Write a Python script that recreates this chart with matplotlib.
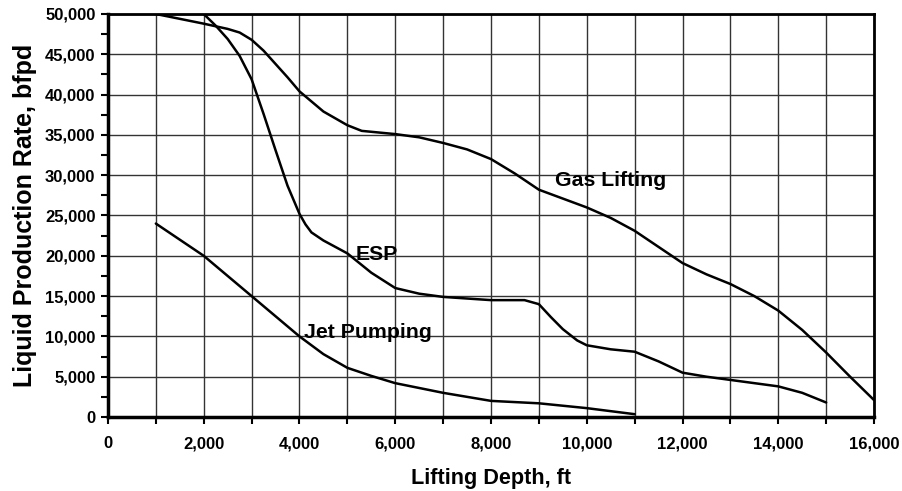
"""Liquid production rate vs lifting depth for three artificial lift methods."""

import matplotlib
matplotlib.use('Agg')
import matplotlib.pyplot as plt
from matplotlib.ticker import MultipleLocator, FuncFormatter

# Values.
gas_depth = [1000, 2000, 2500, 2750, 3000, 3250, 3500, 3750, 4000, 4500, 5000, 5300,
             6000, 6500, 7000, 7500, 8000, 8500, 9000, 9500, 10000, 10500, 11000,
             11500, 12000, 12500, 13000, 13500, 14000, 14500, 15000, 15500, 16000]
gas_rate = [50000, 48800, 48150, 47700, 46800, 45450, 43800, 42150, 40400, 37900, 36200,
            35500, 35100, 34700, 34000, 33200, 32000, 30200, 28200, 27100, 26000, 24700,
            23100, 21100, 19100, 17700, 16500, 15000, 13200, 10800, 8000, 5000, 2100]

esp_depth = [2000, 2250, 2500, 2750, 3000, 3250, 3500, 3750, 4000, 4125, 4250, 4500,
             5000, 5500, 6000, 6500, 7000, 8000, 8700, 9000, 9250, 9500, 9800, 10000,
             10500, 11000, 11500, 12000, 12500, 13000, 14000, 14500, 15000]
esp_rate = [50000, 48550, 46900, 44800, 41900, 37600, 33100, 28700, 25200, 23900, 22900,
            21900, 20300, 17900, 16000, 15300, 14900, 14500, 14500, 14000, 12400, 10900,
            9500, 8900, 8400, 8100, 6900, 5500, 5000, 4600, 3800, 3000, 1800]

jet_depth = [1000, 2000, 3000, 4000, 4500, 5000, 5500, 6000, 6500, 7000, 8000,
             9000, 10000, 11000]
jet_rate = [24000, 20000, 15000, 10000, 7800, 6100, 5100, 4200, 3600, 3000, 2000,
            1700, 1100, 350]

labels = ['Gas Lifting', 'ESP', 'Jet Pumping']
label_pos = [(9330, 29300), (5170, 20100), (4100, 10500)]

plt.rcParams['font.family'] = ['Liberation Sans', 'DejaVu Sans']
plt.rcParams['font.weight'] = 'bold'

fig = plt.figure(figsize=(9.02, 4.91), dpi=100)
ax = fig.add_axes([0.1197, 0.1507, 0.9690 - 0.1197, 0.9715 - 0.1507])

for d, r in [(gas_depth, gas_rate), (esp_depth, esp_rate), (jet_depth, jet_rate)]:
  ax.plot(d, r, color='black', lw=1.8, solid_capstyle='round', zorder=3)

for text, (x, y) in zip(labels, label_pos):
  ax.text(x, y, text, fontsize=15.3, fontweight='bold', ha='left', va='center', zorder=4)

ax.set_xlim(0, 16000)
ax.set_ylim(0, 50000)

# x: labels every 2000, tick + grid every 1000
ax.xaxis.set_major_locator(MultipleLocator(2000))
ax.xaxis.set_minor_locator(MultipleLocator(1000))
ax.yaxis.set_major_locator(MultipleLocator(5000))
ax.yaxis.set_minor_locator(MultipleLocator(2500))
fmt = FuncFormatter(lambda v, p: f'{int(v):,}')
ax.xaxis.set_major_formatter(fmt)
ax.yaxis.set_major_formatter(fmt)

ax.grid(True, which='major', axis='both', color='#333333', lw=1.0)
ax.grid(True, which='minor', axis='x', color='#333333', lw=1.0)
ax.set_axisbelow(True)

ax.tick_params(which='both', direction='out', length=5, width=1.5, color='black')
ax.tick_params(axis='x', which='major', pad=9, labelsize=12)
ax.tick_params(axis='y', which='major', pad=4, labelsize=12)
for lab in ax.get_xticklabels() + ax.get_yticklabels():
  lab.set_fontweight('bold')

for side in ['left', 'bottom']:
  ax.spines[side].set_linewidth(2.5)
for side in ['top', 'right']:
  ax.spines[side].set_linewidth(2.0)

ax.set_xlabel('Lifting Depth, ft', fontsize=15.6, fontweight='bold', labelpad=12)
ax.set_ylabel('Liquid Production Rate, bfpd', fontsize=18, fontweight='bold', labelpad=6)

plt.savefig('out.png', dpi=100)
